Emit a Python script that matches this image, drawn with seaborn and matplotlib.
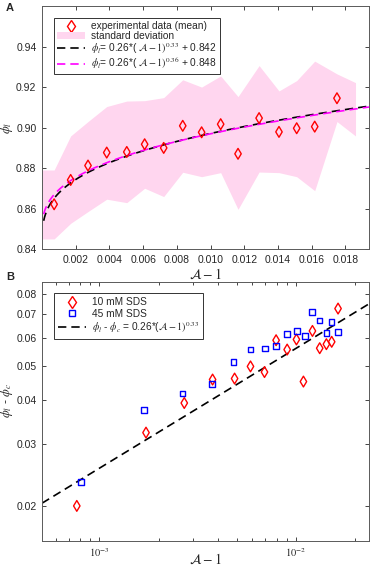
import numpy as np
import matplotlib
matplotlib.use('Agg')
import matplotlib.pyplot as plt
import seaborn as sns
from matplotlib.lines import Line2D
from matplotlib.patches import Patch
from matplotlib.ticker import FixedLocator, FixedFormatter, NullLocator, LogLocator

# panel A: mean of experiments
mean_x = [0.00072, 0.0017, 0.00273, 0.00384, 0.00503, 0.00609, 0.00722, 0.00835,
          0.00947, 0.0106, 0.01163, 0.01288, 0.01406, 0.01511, 0.01618, 0.0175]
mean_y = [0.8622, 0.8742, 0.8813, 0.8877, 0.8880, 0.8918, 0.8900, 0.9009,
          0.8977, 0.9017, 0.8871, 0.9047, 0.8979, 0.8997, 0.9005, 0.9145]

# panel A: standard deviation band
band_x = [0.0, 0.00072, 0.0017, 0.00273, 0.00384, 0.00503, 0.00609, 0.00722, 0.00835,
          0.00947, 0.0106, 0.01163, 0.01288, 0.01406, 0.01511, 0.01618, 0.0175, 0.0186]
band_hi = [0.8791, 0.8791, 0.8959, 0.9030, 0.9104, 0.9131, 0.9133, 0.9148, 0.9236,
           0.9200, 0.9255, 0.9153, 0.9306, 0.9181, 0.9232, 0.9328, 0.9265, 0.9222]
band_lo = [0.8451, 0.8451, 0.8528, 0.8586, 0.8647, 0.8630, 0.8701, 0.8660, 0.8780,
           0.8758, 0.8778, 0.8597, 0.8781, 0.8778, 0.8758, 0.8689, 0.9030, 0.8959]

# fit curves as drawn (coef, exponent, offset) - legend shows rounded values
fit1 = (0.252, 0.33, 0.842)
fit2 = (0.257, 0.36, 0.848)
fit_b = (0.268, 0.34)

# panel B: 10 mM SDS
sds10_x = [7.67e-4, 1.727e-3, 2.705e-3, 3.77e-3, 4.88e-3, 5.88e-3, 6.93e-3, 7.94e-3,
           9.04e-3, 0.01008, 0.01094, 0.01216, 0.01324, 0.01432, 0.01524, 0.01642]
sds10_y = [0.0200, 0.0323, 0.0392, 0.0457, 0.0460, 0.0498, 0.0480, 0.0591,
           0.0556, 0.0594, 0.0451, 0.0628, 0.0561, 0.0576, 0.0585, 0.0727]

# panel B: 45 mM SDS
sds45_x = [8.04e-4, 1.68e-3, 2.65e-3, 3.75e-3, 4.82e-3, 5.88e-3, 6.96e-3, 7.91e-3,
           9.04e-3, 0.01016, 0.01115, 0.01206, 0.0132, 0.01432, 0.01519, 0.01635]
sds45_y = [0.02334, 0.0375, 0.0417, 0.0443, 0.0513, 0.0556, 0.0560, 0.0569,
           0.0616, 0.0629, 0.0609, 0.0711, 0.0672, 0.0621, 0.0665, 0.0625]

sns.set_style('ticks')
plt.rcParams['font.family'] = ['Liberation Sans', 'DejaVu Sans']
plt.rcParams['mathtext.fontset'] = 'stix'
plt.rcParams['axes.edgecolor'] = '0.35'
plt.rcParams['axes.linewidth'] = 0.7

fig = plt.figure(figsize=(3.74, 5.65), dpi=100)
ax1 = fig.add_axes([0.1123, 0.5588, 0.8743, 0.4306])
ax2 = fig.add_axes([0.1123, 0.0425, 0.8743, 0.4584])

pink = '#FFD6EF'
dash = (0, (5, 3))

# ---- panel A
ax1.fill_between(band_x, band_lo, band_hi, color=pink, lw=0)
xf = np.linspace(0.0001, 0.0194, 400)
sns.lineplot(x=xf, y=fit1[0] * xf ** fit1[1] + fit1[2], ax=ax1, color='black', lw=1.2, linestyle=dash)
sns.lineplot(x=xf, y=fit2[0] * xf ** fit2[1] + fit2[2], ax=ax1, color='magenta', lw=1.2, linestyle=dash)
sns.scatterplot(x=mean_x, y=mean_y, ax=ax1, marker='d', s=30, facecolors='none',
                edgecolors='red', linewidth=1.0, zorder=5)
ax1.set_xlim(0, 0.0194)
ax1.set_ylim(0.84, 0.96)
ax1.set_xticks([0.002, 0.004, 0.006, 0.008, 0.010, 0.012, 0.014, 0.016, 0.018])
ax1.set_xticklabels(['0.002', '0.004', '0.006', '0.008', '0.010', '0.012', '0.014', '0.016', '0.018'])
ax1.set_yticks([0.84, 0.86, 0.88, 0.90, 0.92, 0.94])
ax1.set_yticklabels(['0.84', '0.86', '0.88', '0.90', '0.92', '0.94'])
ax1.tick_params(direction='in', top=True, right=True, length=3, width=0.6, labelsize=7.5, pad=4)
ax1.set_xlabel(r'$\mathcal{A}-1$', fontsize=10)
ax1.xaxis.set_label_coords(0.5, -0.075)
ax1.set_ylabel(r'$\phi_l$', fontsize=9, va='center')
ax1.yaxis.set_label_coords(-0.106, 0.5)

h1 = [Line2D([], [], ls='', marker='d', ms=6, mfc='none', mec='red', mew=1.0),
      Patch(facecolor=pink, edgecolor='none'),
      Line2D([], [], color='black', lw=1.2, ls=dash),
      Line2D([], [], color='magenta', lw=1.2, ls=dash)]
l1 = ['experimental data (mean)', 'standard deviation',
      r'$\phi_l$= 0.26*( $\mathcal{A}-1)^{0.33}$ + 0.842',
      r'$\phi_l$= 0.26*( $\mathcal{A}-1)^{0.36}$ + 0.848']
leg1 = ax1.legend(h1, l1, loc='upper left', bbox_to_anchor=(0.037, 0.951), borderaxespad=0,
                  fontsize=7.3, frameon=True, fancybox=False, edgecolor='0.2', framealpha=1,
                  handlelength=2.7, handleheight=0.6, handletextpad=0.6, labelspacing=0.0,
                  borderpad=0.3)
leg1.get_frame().set_linewidth(0.7)

# ---- panel B
ax2.set_xscale('log')
ax2.set_yscale('log')
xb = np.geomspace(5.1e-4, 0.0236, 200)
sns.lineplot(x=xb, y=fit_b[0] * xb ** fit_b[1], ax=ax2, color='black', lw=1.2, linestyle=dash)
sns.scatterplot(x=sds10_x, y=sds10_y, ax=ax2, marker='d', s=30, facecolors='none',
                edgecolors='red', linewidth=1.0, zorder=5)
sns.scatterplot(x=sds45_x, y=sds45_y, ax=ax2, marker='s', s=17, facecolors='none',
                edgecolors='blue', linewidth=1.0, zorder=5)
ax2.set_xlim(5.1e-4, 0.0236)
ax2.set_ylim(0.0159, 0.0865)
ax2.xaxis.set_major_locator(FixedLocator([1e-3, 1e-2]))
ax2.xaxis.set_major_formatter(FixedFormatter([r'$10^{-3}$', r'$10^{-2}$']))
ax2.xaxis.set_minor_locator(LogLocator(base=10, subs=np.arange(2, 10)))
ax2.xaxis.set_minor_formatter(FixedFormatter([]))
yb_ticks = [0.02, 0.03, 0.04, 0.05, 0.06, 0.07, 0.08]
ax2.yaxis.set_major_locator(FixedLocator(yb_ticks))
ax2.yaxis.set_major_formatter(FixedFormatter(['0.02', '0.03', '0.04', '0.05', '0.06', '0.07', '0.08']))
ax2.yaxis.set_minor_locator(NullLocator())
ax2.tick_params(which='both', direction='in', top=True, right=True, width=0.6, labelsize=7.5, pad=4)
ax2.tick_params(which='major', length=3)
ax2.tick_params(which='minor', length=2)
ax2.set_xlabel(r'$\mathcal{A}-1$', fontsize=10)
ax2.xaxis.set_label_coords(0.5, -0.043)
ax2.set_ylabel(r'$\phi_l$ - $\phi_c$', fontsize=9, va='center')
ax2.yaxis.set_label_coords(-0.106, 0.544)

h2 = [Line2D([], [], ls='', marker='d', ms=6, mfc='none', mec='red', mew=1.0),
      Line2D([], [], ls='', marker='s', ms=4.5, mfc='none', mec='blue', mew=1.0),
      Line2D([], [], color='black', lw=1.2, ls=dash)]
l2 = ['10 mM SDS', '45 mM SDS', r'$\phi_l$ - $\phi_c$ = 0.26*($\mathcal{A}-1)^{0.33}$']
leg2 = ax2.legend(h2, l2, loc='upper left', bbox_to_anchor=(0.037, 0.9575), borderaxespad=0,
                  fontsize=7.3, frameon=True, fancybox=False, edgecolor='0.2', framealpha=1,
                  handlelength=2.7, handletextpad=0.6, labelspacing=0.15, borderpad=0.4)
leg2.get_frame().set_linewidth(0.7)

fig.text(0.027, 0.986, 'A', fontsize=8, fontweight='bold', va='center', ha='center')
fig.text(0.027, 0.509, 'B', fontsize=8, fontweight='bold', va='center', ha='center')

fig.savefig('out.png', dpi=100)
